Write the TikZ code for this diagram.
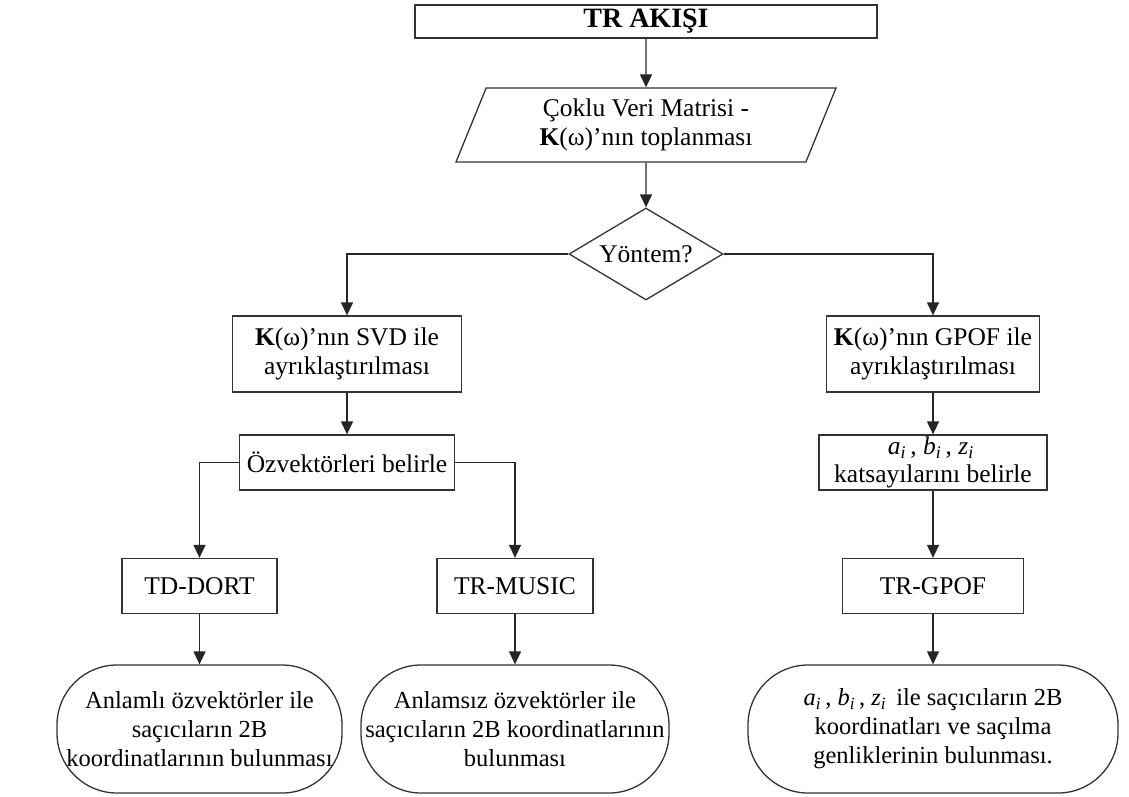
\documentclass[tikz,border=0pt]{standalone}
\usepackage{fontspec}
\setmainfont{Liberation Serif}
\usetikzlibrary{arrows.meta, shapes.geometric}
\newcommand{\katsi}[1]{\textit{#1}\textsubscript{\textit{i}}\,}

\begin{document}
\begin{tikzpicture}[
    x=1pt, y=-1pt,
    font=\fontsize{25.5}{29.5}\selectfont,
    kutu/.style={draw=black!80, fill=white, line width=1.3pt, align=center, inner sep=2pt},
    girdi/.style={kutu, trapezium, trapezium left angle=62, trapezium right angle=118,
                  trapezium stretches body, minimum width=380pt, minimum height=74pt},
    karar/.style={kutu, diamond, aspect=1.67, inner sep=1pt, minimum width=154pt, minimum height=92pt},
    sonuc/.style={kutu, rounded corners=60pt, inner sep=0pt, minimum height=128pt,
                  font=\fontsize{24.5}{29}\selectfont},
    link/.style={-{Triangle[length=13pt, width=12pt]}, draw=black!85, line width=1.3pt}
]
\useasboundingbox (0,0) rectangle (1129,796);
\node[kutu, minimum width=462pt, minimum height=33pt, font=\fontsize{28}{30}\selectfont\bfseries]
      (baslik) at (646,21.5) {TR AKIŞI};
\node[girdi] (veri)   at (646,125) {Çoklu Veri Matrisi -\\\textbf{K}(ω)’nın toplanması};
\node[karar] (yontem) at (646,254) {Yöntem?};
\node[kutu, minimum width=229pt, minimum height=76pt] (svd)  at (347,354) {\textbf{K}(ω)’nın SVD ile\\ayrıklaştırılması};
\node[kutu, minimum width=213pt, minimum height=76pt] (gpof) at (933,354) {\textbf{K}(ω)’nın GPOF ile\\ayrıklaştırılması};
\node[kutu, minimum width=215pt, minimum height=55pt] (ozvek)   at (347,462.5) {Özvektörleri belirle};
\node[kutu, minimum width=228pt, minimum height=55pt] (katsayi) at (933,462.5) {\katsi{a}, \katsi{b}, \katsi{z}\\[-2pt]katsayılarını belirle};
\node[kutu, minimum width=155pt, minimum height=55pt] (tddort)  at (199.5,586) {TD-DORT};
\node[kutu, minimum width=156pt, minimum height=55pt] (trmusic) at (515,586) {TR-MUSIC};
\node[kutu, minimum width=181pt, minimum height=55pt] (trgpof)  at (933,586) {TR-GPOF};
\node[sonuc, minimum width=285pt] (anlamli)  at (199.5,729) {Anlamlı özvektörler ile\\saçıcıların 2B\\koordinatlarının bulunması};
\node[sonuc, minimum width=308pt] (anlamsiz) at (515,729) {Anlamsız özvektörler ile\\saçıcıların 2B koordinatlarının\\bulunması};
\node[sonuc, minimum width=370pt] (genlik)   at (933,729) {\katsi{a}, \katsi{b}, \katsi{z} ile saçıcıların 2B\\koordinatları ve saçılma\\genliklerinin bulunması.};
\foreach \a/\b in {baslik/veri, veri/yontem, svd/ozvek, gpof/katsayi, katsayi/trgpof,
                   tddort/anlamli, trmusic/anlamsiz, trgpof/genlik}{\draw[link] (\a)--(\b);}
\draw[link] (yontem.west) -| (svd.north);
\draw[link] (yontem.east) -| (gpof.north);
\draw[link] (ozvek.west) -| (tddort.north);
\draw[link] (ozvek.east) -| (trmusic.north);
\end{tikzpicture}
\end{document}
